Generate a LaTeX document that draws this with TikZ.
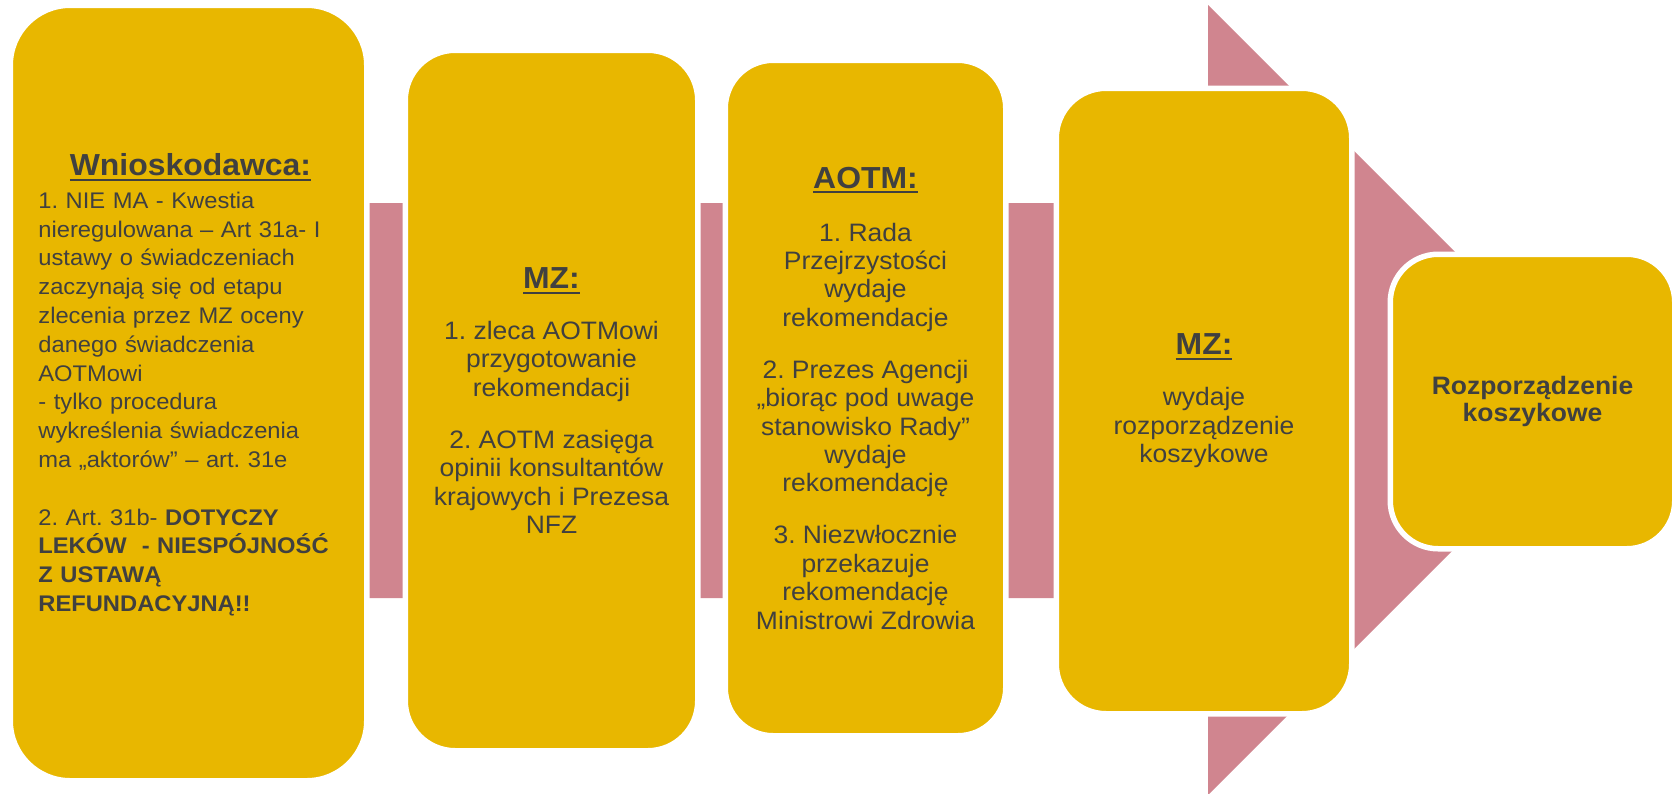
\documentclass[tikz,border=0pt]{standalone}
\usepackage{fontspec}
\setmainfont{Liberation Sans}[FakeStretch=1.05]
\usepackage{tikz}
\frenchspacing

\definecolor{gold}{HTML}{E8B700}
\definecolor{rose}{HTML}{D0858F}
\definecolor{ink}{HTML}{404040}

\newsavebox{\headbox}
\newcommand{\headword}[1]{\sbox{\headbox}{#1}\rlap{\rule[-2.6pt]{\wd\headbox}{1pt}}\usebox{\headbox}}
\newcommand{\stagetitle}[1]{{\fontsize{15.2}{14.2}\selectfont\bfseries\headword{#1}}}

\begin{document}
\begin{tikzpicture}[x=0.5pt, y=-0.5pt,
	stage/.style={shape=rectangle, rounded corners=#1, fill=gold, draw=white, line width=2.75pt,
		inner sep=0pt, outer sep=0pt, text=ink, align=center, font=\fontsize{12.6}{14.2}\selectfont},
	note/.style={inner sep=0pt, text=ink, align=left, text width=152pt, font=\fontsize{11.3}{14.4}\selectfont}]
	
	\useasboundingbox (0,0) rectangle (1673,793);
	\fill[white] (0,0) rectangle (1673,793);
	
	\fill[rose] (300,203) -- (1208,203) -- (1208,5) -- (1603,400) -- (1208,795) -- (1208,598) -- (300,598) -- cycle;
	
	
	\node[stage=30pt, minimum width=178.25pt, minimum height=387.75pt] (wnio) at (188.5,393) {};
	
	\node[note, anchor=north west] (wnio-text) at (38,153) {%
		{\centering\fontsize{15.2}{14.4}\selectfont\bfseries\headword{Wnioskodawca:}\par}
		\vspace{2pt}
		1. NIE MA - Kwestia\\
		nieregulowana – Art 31a- I\\
		ustawy o świadczeniach\\
		zaczynają się od etapu\\
		zlecenia przez MZ oceny\\
		danego świadczenia\\
		AOTMowi\\
		- tylko procedura\\
		wykreślenia świadczenia\\
		ma „aktorów” – art. 31e\\[14.4pt]
		2. Art. 31b- \textbf{DOTYCZY}\\
		\textbf{LEKÓW\ \ - NIESPÓJNOŚĆ}\\
		\textbf{Z USTAWĄ}\\
		\textbf{REFUNDACYJNĄ!!}};
	
	
	\node[stage=25pt, minimum width=146.25pt, minimum height=350.25pt] (mz) at (551.5,400.5) {%
		\stagetitle{MZ:}\\[11.3pt]
		1. zleca AOTMowi\\ przygotowanie\\ rekomendacji\\[11.8pt]
		2. AOTM zasięga\\ opinii konsultantów\\ krajowych i Prezesa\\ NFZ};
	
	\node[stage=24pt, minimum width=140.25pt, minimum height=337.75pt] (aotm) at (865.5,398) {%
		\stagetitle{AOTM:}\\[12.3pt]
		1. Rada\\ Przejrzystości\\ wydaje\\ rekomendacje\\[11.8pt]
		2. Prezes Agencji\\ „biorąc pod uwage\\ stanowisko Rady”\\ wydaje\\ rekomendację\\[11.8pt]
		3. Niezwłocznie\\ przekazuje\\ rekomendację\\ Ministrowi Zdrowia};
	
	\node[stage=25pt, minimum width=147.75pt, minimum height=312.75pt] (minister) at (1204,401) {%
		\stagetitle{MZ:}\\[11.3pt]
		wydaje\\ rozporządzenie\\ koszykowe};
	
	
	\node[stage=24pt, minimum width=142.25pt, minimum height=147.25pt,
		font=\fontsize{12.6}{13.6}\selectfont\bfseries] (koszyk) at (1532.5,401.5) {%
		Rozporządzenie\\ koszykowe};
	
\end{tikzpicture}
\end{document}
